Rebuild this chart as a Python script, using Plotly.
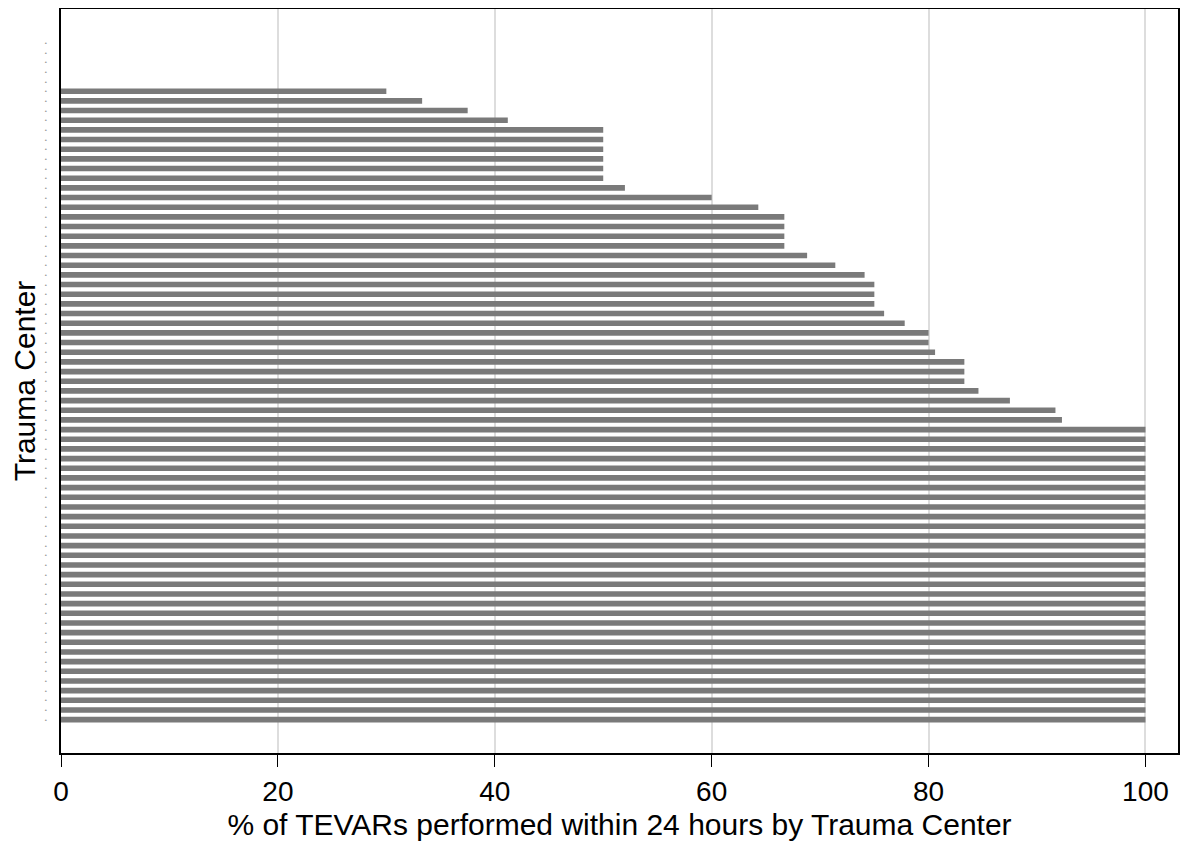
import plotly.graph_objects as go

# Trauma centers (top to bottom); first five performed no TEVARs within 24h
centers = [f"Center {i}" for i in range(1, 72)]
pct_within_24h = [
    0, 0, 0, 0, 0,
    30.0, 33.3, 37.5, 41.2,
    50.0, 50.0, 50.0, 50.0, 50.0, 50.0,
    52.0, 60.0, 64.3,
    66.7, 66.7, 66.7, 66.7,
    68.8, 71.4, 74.1,
    75.0, 75.0, 75.0, 75.9, 77.8,
    80.0, 80.0, 80.6,
    83.3, 83.3, 83.3, 84.6, 87.5, 91.7, 92.3,
] + [100.0] * 31
x_ticks = [0, 20, 40, 60, 80, 100]

fig = go.Figure(go.Bar(
    x=pct_within_24h,
    y=centers,
    orientation="h",
    width=0.58,
    marker=dict(color="#7a7a7a", line=dict(width=0)),
))

n = len(centers)
# page body has an 8px default margin; figure sized to fill the rest
fig.update_layout(
    width=1181, height=838,
    margin=dict(l=53, r=11, t=1, b=93),
    paper_bgcolor="white", plot_bgcolor="white",
    showlegend=False,
    font=dict(family="Liberation Sans, Arial, sans-serif", color="black"),
    xaxis=dict(
        range=[0, 103], tickvals=x_ticks, automargin=False,
        showgrid=True, gridcolor="#dddddd", gridwidth=2,
        zeroline=False,
        showline=True, linecolor="black", linewidth=2, mirror=True,
        ticks="outside", ticklen=12, tickwidth=1, tickcolor="black",
        tickfont=dict(size=28),
        title=dict(text="% of TEVARs performed within 24 hours by Trauma Center",
                   font=dict(size=30), standoff=8),
    ),
    yaxis=dict(
        type="category", categoryorder="array", categoryarray=centers,
        range=[n - 1 + 3.45, -3.5], automargin=False,
        tickvals=centers, ticktext=["•"] * n,
        tickfont=dict(size=6, color="#999999"),
        ticks="", ticklabelstandoff=11,
        showgrid=False, zeroline=False,
        showline=True, linecolor="black", linewidth=2, mirror=True,
        title=dict(text="Trauma Center", font=dict(size=30), standoff=14),
    ),
)

fig.write_html("out.html")
